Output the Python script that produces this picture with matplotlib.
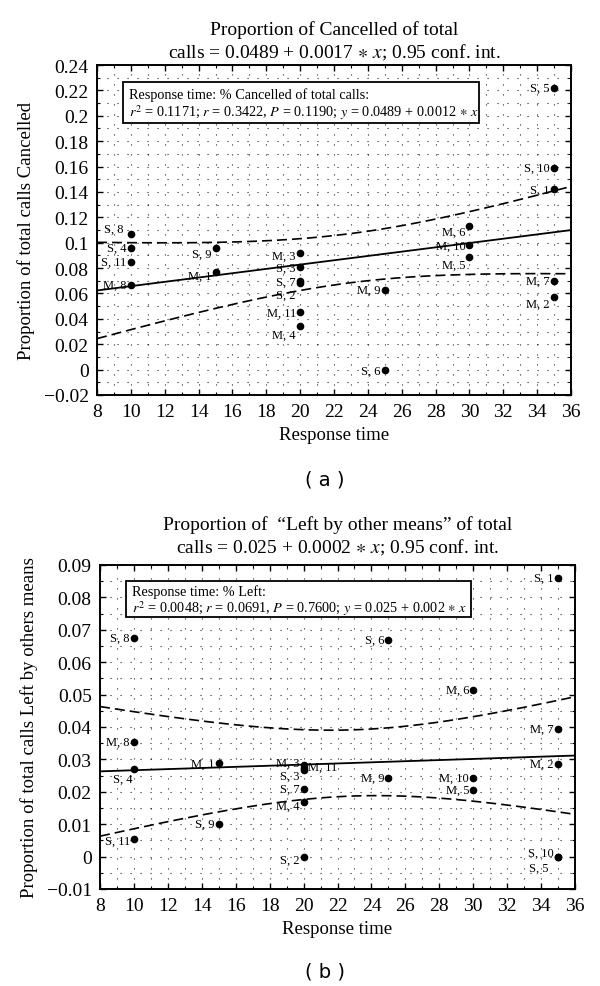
import matplotlib
matplotlib.use("Agg")
import matplotlib.pyplot as plt
from matplotlib.patches import Rectangle
from matplotlib.ticker import MultipleLocator, FuncFormatter
import numpy as np

plt.rcParams['font.family'] = ['Liberation Serif', 'DejaVu Serif']
plt.rcParams['mathtext.fontset'] = 'stix'

# ---- data -----------------------------------------------------------
labels = ['S, 1', 'S, 2', 'S, 3', 'S, 4', 'S, 5', 'S, 6', 'S, 7', 'S, 8', 'S, 9', 'S, 10', 'S, 11',
          'M, 1', 'M, 2', 'M, 3', 'M, 4', 'M, 5', 'M, 6', 'M, 7', 'M, 8', 'M, 9', 'M, 10', 'M, 11']
resp_time = [35, 20, 20, 10, 35, 25, 20, 10, 15, 35, 10,
             15, 35, 20, 20, 30, 30, 35, 10, 25, 30, 20]
cancelled = [0.142, 0.068, 0.081, 0.096, 0.222, 0.000, 0.070, 0.107, 0.096, 0.159, 0.085,
             0.077, 0.057, 0.092, 0.034, 0.089, 0.113, 0.070, 0.067, 0.063, 0.098, 0.045]
left_other = [0.0859, 0.0, 0.0267, 0.0269, 0.0, 0.0669, 0.0208, 0.0676, 0.0102, 0.0, 0.0054,
              0.0288, 0.0287, 0.0282, 0.0169, 0.0205, 0.0515, 0.0393, 0.0354, 0.0244, 0.0244, 0.0274]
t_crit = 2.086  # t(0.975, df=20)

# label offsets in points (dx, dy)
offs_a = {'M, 6': (-3, -4), 'M, 5': (-3, -6), 'M, 2': (-3, -5), 'S, 8': (-5, 4),
          'S, 9': (-3, -4), 'M, 1': (-3, -3), 'M, 3': (-3, -2), 'S, 3': (-3, -1),
          'S, 7': (-3, -1), 'S, 2': (-3, -8), 'M, 4': (-3, -6), 'S, 6': (-3, -1)}
offs_b = {'S, 4': (-1, -7), 'M, 3': (-3, 2), 'M, 11': (3, 1), 'S, 3': (-3, -4),
          'M, 4': (-3, -3), 'S, 11': (-3, -1), 'S, 2': (-3, -2), 'S, 10': (-3, 3),
          'S, 5': (-7, -8)}


def draw(ax, x, y, offs, yminor, ylim, yticks, box, line1, line2):
    x = np.asarray(x, float)
    y = np.asarray(y, float)
    n = len(x)
    b1, b0 = np.polyfit(x, y, 1)
    res = y - (b0 + b1 * x)
    s = np.sqrt(np.sum(res ** 2) / (n - 2))
    xbar = x.mean()
    sxx = np.sum((x - xbar) ** 2)
    xx = np.linspace(8, 36, 200)
    yy = b0 + b1 * xx
    h = t_crit * s * np.sqrt(1 / n + (xx - xbar) ** 2 / sxx)

    ax.plot(xx, yy, color='black', lw=1.3, zorder=3)
    ax.plot(xx, yy + h, color='black', lw=1.2, ls=(0, (6, 3)), zorder=3)
    ax.plot(xx, yy - h, color='black', lw=1.2, ls=(0, (6, 3)), zorder=3)
    ax.plot(x, y, 'o', color='black', ms=4.5, zorder=4)
    for lab, xi, yi in zip(labels, x, y):
        dx, dy = offs.get(lab, (-3, 0))
        ax.annotate(lab, (xi, yi), xytext=(dx, dy), textcoords='offset points',
                    ha='right' if dx < 0 else 'left', va='center', fontsize=9, zorder=5)

    ax.set_xlim(8, 36)
    ax.set_ylim(*ylim)
    ax.xaxis.set_major_locator(MultipleLocator(2))
    ax.xaxis.set_minor_locator(MultipleLocator(1))
    ax.set_yticks(yticks)
    ax.yaxis.set_minor_locator(MultipleLocator(yminor))
    ax.yaxis.set_major_formatter(FuncFormatter(lambda v, p: f"{round(v, 4):g}".replace('-', '\u2212')))
    ax.tick_params(which='both', direction='in', top=True, right=True, labelsize=14)
    ax.tick_params(which='major', length=4, width=1, pad=6)
    ax.tick_params(which='minor', length=2.5, width=0.8)
    ax.grid(which='both', color='black', lw=0.8, ls=(0, (1, 8)), alpha=0.85)
    ax.set_axisbelow(True)
    for sp in ax.spines.values():
        sp.set_linewidth(1.4)
    ax.set_xlabel('Response time', fontsize=13.5, labelpad=4)

    bx0, by0, bx1, by1 = box
    ax.add_patch(Rectangle((bx0, by0), bx1 - bx0, by1 - by0, transform=ax.transAxes,
                           facecolor='white', edgecolor='black', lw=1.3, zorder=6))
    ax.text(bx0 + 0.012, by0 + (by1 - by0) * 0.72, line1, transform=ax.transAxes,
            fontsize=10.3, va='center', ha='left', zorder=7)
    ax.text(bx0 + 0.012, by0 + (by1 - by0) * 0.27, line2, transform=ax.transAxes,
            fontsize=10.3, va='center', ha='left', zorder=7)


fig = plt.figure(figsize=(6, 9.87), dpi=100)

ax1 = fig.add_axes([0.1617, 0.5988, 0.79, 0.3343])
draw(ax1, resp_time, cancelled, offs_a, 0.01, (-0.02, 0.24), np.arange(-0.02, 0.241, 0.02),
     (0.055, 0.824, 0.806, 0.948),
     'Response time: % Cancelled of total calls:',
     r'$r^2$ = 0.1171; $r$ = 0.3422, $P$ = 0.1190; $y$ = 0.0489 + 0.0012 $\ast$ $x$')
ax1.set_ylabel('Proportion of total calls Cancelled', fontsize=13.5, labelpad=6)

ax2 = fig.add_axes([0.1667, 0.0983, 0.7917, 0.3283])
draw(ax2, resp_time, left_other, offs_b, 0.005, (-0.01, 0.09), np.arange(-0.01, 0.091, 0.01),
     (0.055, 0.839, 0.78, 0.949),
     'Response time: % Left:',
     r'$r^2$ = 0.0048; $r$ = 0.0691, $P$ = 0.7600; $y$ = 0.025 + 0.002 $\ast$ $x$')
ax2.set_ylabel('Proportion of total calls Left by others means', fontsize=13.5, labelpad=6)

# titles
fig.text(0.557, 1 - 30 / 987, 'Proportion of Cancelled of total', ha='center', va='center', fontsize=14)
fig.text(0.557, 1 - 53 / 987, r'calls = 0.0489 + 0.0017 $\ast$ $x$; 0.95 conf. int.',
         ha='center', va='center', fontsize=14)
fig.text(0.562, 1 - 525 / 987, 'Proportion of  \u201cLeft by other means\u201d of total',
         ha='center', va='center', fontsize=14)
fig.text(0.562, 1 - 548 / 987, r'calls = 0.025 + 0.0002 $\ast$ $x$; 0.95 conf. int.',
         ha='center', va='center', fontsize=14)

fig.text(325 / 600, 1 - 480 / 987, '( a )', ha='center', va='center', fontsize=14, family='DejaVu Sans')
fig.text(325 / 600, 1 - 972 / 987, '( b )', ha='center', va='center', fontsize=14, family='DejaVu Sans')

fig.savefig('out.png', dpi=100)
